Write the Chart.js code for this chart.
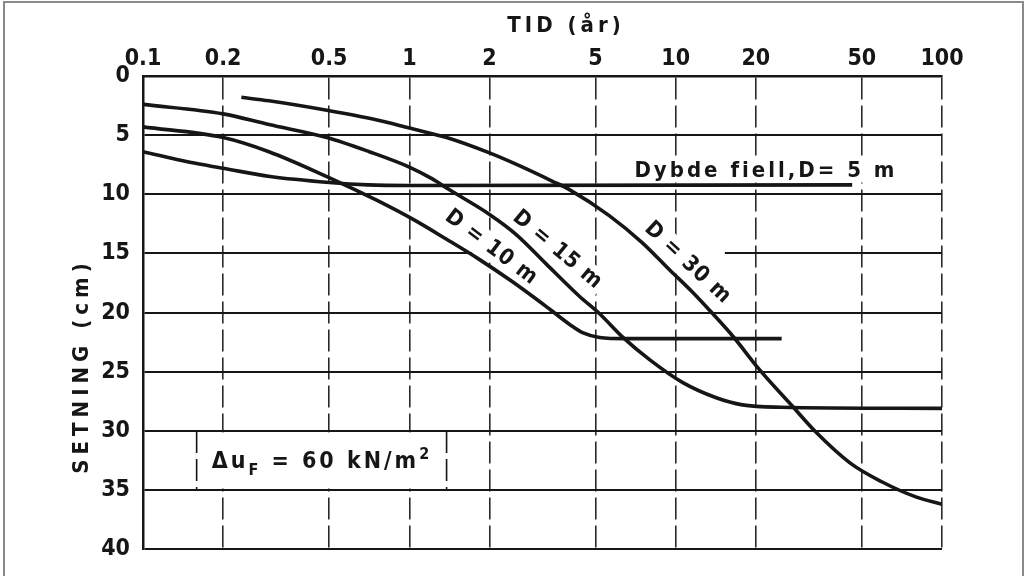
<!DOCTYPE html>
<html>
<head>
<meta charset="utf-8">
<title>Setning - tid</title>
<script src="https://cdn.jsdelivr.net/npm/chart.js@4.4.1/dist/chart.umd.min.js"></script>
<style>
  html, body { margin: 0; padding: 0; background: #fff; }
  canvas { display: block; }
</style>
</head>
<body>
<canvas id="setning" width="1026" height="576"></canvas>
<script>
// Akser: tid (år, log) og setning (cm)
const tidTicks = [0.1, 0.2, 0.5, 1, 2, 5, 10, 20, 50, 100];
const setningTicks = [0, 5, 10, 15, 20, 25, 30, 35, 40];

// Dybde fjell, D = 5 m
const tidD5 = [0.1, 0.15, 0.2, 0.3, 0.5, 0.7, 1, 46];
const setnD5 = [6.4, 7.3, 7.8, 8.5, 9.0, 9.2, 9.25, 9.2];

// D = 10 m
const tidD10 = [0.1, 0.2, 0.297, 0.49, 0.65, 0.77, 1.03, 1.38, 1.83, 2.44, 3.36, 4.0, 4.47, 5.18, 6.5, 25];
const setnD10 = [4.3, 5.2, 6.4, 8.5, 9.8, 10.6, 12.1, 13.8, 15.5, 17.4, 19.7, 21.0, 21.7, 22.1, 22.2, 22.2];

// D = 15 m
const tidD15 = [0.1, 0.2, 0.297, 0.49, 0.707, 1.0, 1.22, 1.41, 2.0, 2.52, 3.27, 4.34, 5.18, 6.34, 8.0, 10.6, 14.2, 17.8, 24.7, 100];
const setnD15 = [2.4, 3.2, 4.1, 5.2, 6.4, 7.7, 8.7, 9.6, 11.7, 13.4, 15.9, 18.6, 20.1, 22.1, 24.0, 25.9, 27.2, 27.8, 28.0, 28.1];

// D = 30 m
const tidD30 = [0.234, 0.297, 0.49, 0.75, 1.0, 1.38, 2.0, 2.6, 3.45, 3.99, 5.63, 7.5, 9.5, 11.6, 13.4, 16.4, 20.6, 27.4, 33.6, 45.1, 59.4, 80.2, 100];
const setnD30 = [1.8, 2.1, 2.9, 3.7, 4.4, 5.2, 6.5, 7.6, 8.9, 9.6, 11.8, 14.1, 16.4, 18.3, 19.8, 22.0, 24.8, 27.9, 30.1, 32.7, 34.3, 35.6, 36.2];

const ink = "#161616";
const face = '"DejaVu Sans Condensed", "Liberation Sans Narrow", "DejaVu Sans", sans-serif';

const toPoints = (tid, setn) => tid.map((t, i) => ({ x: t, y: setn[i] }));

const curve = (label, tid, setn) => ({
    label,
    data: toPoints(tid, setn),
    borderColor: ink,
    borderWidth: 3.6,
    pointRadius: 0,
    cubicInterpolationMode: "monotone",
    fill: false
});

// skriv tekst (evt. rotert) med hvit bakgrunn
function note(ctx, text, px, py, angle, spacing, pad) {
    ctx.save();
    ctx.translate(px, py);
    ctx.rotate(angle * Math.PI / 180);
    ctx.font = `bold 22px ${face}`;
    ctx.letterSpacing = spacing + "px";
    const w = ctx.measureText(text).width;
    if (pad) {
        ctx.fillStyle = "#fff";
        ctx.fillRect(-w / 2 - pad, -13, w + 2 * pad, 26);
    }
    ctx.fillStyle = ink;
    ctx.textAlign = "center";
    ctx.textBaseline = "middle";
    ctx.fillText(text, 0, 0);
    ctx.restore();
}

const notes = {
    id: "notes",
    beforeDatasetsDraw(chart) {
        const { ctx, scales: { x, y } } = chart;
        ctx.save();
        ctx.fillStyle = "#fff";

        // brudd i 15 cm-linja
        const y15 = y.getPixelForValue(15);
        const g1 = x.getPixelForValue(1.72), g2 = x.getPixelForValue(15.3);
        ctx.fillRect(g1, y15 - 2, g2 - g1, 4);

        // ramme for Δu
        const bx1 = x.getPixelForValue(0.159), bx2 = x.getPixelForValue(1.38);
        const by1 = y.getPixelForValue(30), by2 = y.getPixelForValue(35);
        ctx.fillRect(bx1, by1 + 1.5, bx2 - bx1, by2 - by1 - 3);
        ctx.strokeStyle = ink;
        ctx.lineWidth = 1.6;
        ctx.setLineDash([22, 6]);
        ctx.beginPath();
        ctx.moveTo(bx1, by1); ctx.lineTo(bx1, by2);
        ctx.moveTo(bx2, by1); ctx.lineTo(bx2, by2);
        ctx.stroke();
        ctx.setLineDash([]);

        // Δu_F = 60 kN/m²
        ctx.fillStyle = ink;
        ctx.textBaseline = "alphabetic";
        ctx.textAlign = "left";
        ctx.letterSpacing = "3px";
        let tx = bx1 + 15;
        const ty = y.getPixelForValue(33.1);
        ctx.font = `bold 23px ${face}`;
        ctx.fillText("Δu", tx, ty);
        tx += ctx.measureText("Δu").width;
        ctx.font = `bold 16px ${face}`;
        ctx.fillText("F", tx, ty + 7);
        tx += ctx.measureText("F").width;
        ctx.font = `bold 23px ${face}`;
        ctx.fillText(" = 60 kN/m", tx, ty);
        tx += ctx.measureText(" = 60 kN/m").width;
        ctx.font = `bold 16px ${face}`;
        ctx.fillText("2", tx, ty - 9);

        // Dybde fjell
        ctx.font = `bold 22px ${face}`;
        ctx.letterSpacing = "3px";
        const dyb = "Dybde fiell,D= 5 m";
        const dx = x.getPixelForValue(7.0), dy = y.getPixelForValue(8.5);
        const dw = ctx.measureText(dyb).width;
        ctx.fillStyle = "#fff";
        ctx.fillRect(dx - 4, dy - 20, dw + 8, 26);
        ctx.fillStyle = ink;
        ctx.fillText(dyb, dx, dy);
        ctx.restore();

        // kurvenavn
        note(ctx, "D = 10 m", x.getPixelForValue(2.03), y.getPixelForValue(14.5), 37, 1, 3);
        note(ctx, "D = 15 m", x.getPixelForValue(3.6), y.getPixelForValue(14.7), 40, 1, 3);
        note(ctx, "D = 30 m", x.getPixelForValue(11.1), y.getPixelForValue(15.8), 43, 1, 3);
    },
    afterDraw(chart) {
        const { ctx } = chart;
        // aksetitler
        note(ctx, "TID (år)", 566, 26, 0, 4, 0);
        note(ctx, "SETNING (cm)", 82, 366, -90, 5, 0);
        // ramme rundt figuren
        ctx.save();
        ctx.strokeStyle = "#8a8a8a";
        ctx.lineWidth = 2;
        ctx.strokeRect(4, 2, 1019, 600);
        ctx.restore();
    }
};

new Chart(document.getElementById("setning"), {
    type: "line",
    data: {
        datasets: [
            curve("D = 5 m", tidD5, setnD5),
            curve("D = 10 m", tidD10, setnD10),
            curve("D = 15 m", tidD15, setnD15),
            curve("D = 30 m", tidD30, setnD30)
        ]
    },
    options: {
        responsive: false,
        animation: false,
        devicePixelRatio: 1,
        layout: {
            padding: { left: 0, right: 84, top: 0, bottom: 26 }
        },
        plugins: {
            legend: { display: false },
            tooltip: { enabled: false }
        },
        scales: {
            x: {
                type: "logarithmic",
                position: "top",
                min: 0.1,
                max: 100,
                afterBuildTicks: (scale) => {
                    scale.ticks = tidTicks.map((v) => ({ value: v }));
                },
                afterFit: (scale) => {
                    scale.height = 76;
                },
                grid: {
                    color: "#2a2a2a",
                    lineWidth: 1.6,
                    drawTicks: false
                },
                border: {
                    display: true,
                    color: ink,
                    width: 2.5,
                    dash: [22, 6]
                },
                ticks: {
                    autoSkip: false,
                    maxRotation: 0,
                    padding: 3,
                    color: ink,
                    font: { family: face, size: 23, weight: "bold" },
                    callback: (v) => String(v)
                }
            },
            y: {
                type: "linear",
                reverse: true,
                min: 0,
                max: 40,
                afterBuildTicks: (scale) => {
                    scale.ticks = setningTicks.map((v) => ({ value: v }));
                },
                afterFit: (scale) => {
                    scale.width = 143;
                },
                grid: {
                    color: ink,
                    lineWidth: 2,
                    drawTicks: false
                },
                border: {
                    display: true,
                    color: ink,
                    width: 2.5
                },
                ticks: {
                    padding: 13,
                    color: ink,
                    font: { family: face, size: 23, weight: "bold" }
                }
            }
        }
    },
    plugins: [notes]
});
</script>
</body>
</html>
